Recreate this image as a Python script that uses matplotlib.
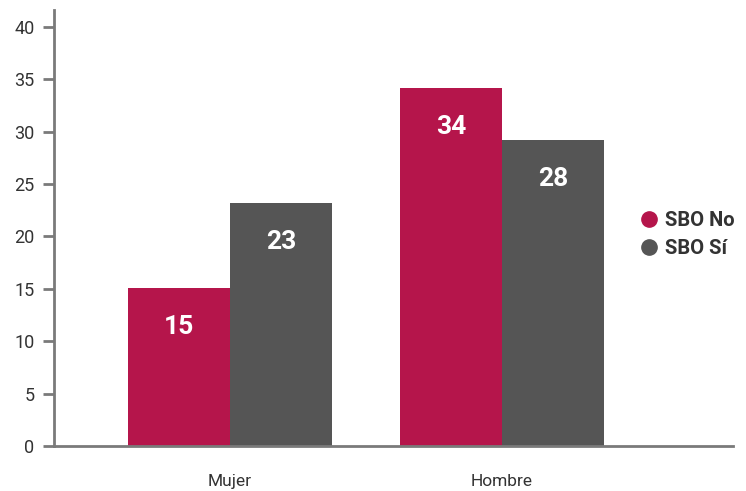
import numpy as np
import matplotlib.pyplot as plt
from matplotlib.lines import Line2D

categories = ['Mujer', 'Hombre']
series_names = ['SBO No', 'SBO Sí']
sbo_no = [15.1, 34.2]
sbo_si = [23.2, 29.2]
labels_no = ['15', '34']
labels_si = ['23', '28']
yticks = [0, 5, 10, 15, 20, 25, 30, 35, 40]

plt.rcParams['font.family'] = ['Roboto', 'DejaVu Sans']

c_no = '#b5154b'
c_si = '#555555'
axis_c = '#7a7a7a'


def main():
    fig = plt.figure(figsize=(7.46, 4.91), dpi=100)
    ax = fig.add_axes([0.0724, 0.0916, 0.9102, 0.888])

    x = np.arange(len(categories))
    w = 0.375
    b1 = ax.bar(x - w/2, sbo_no, w, color=c_no)
    b2 = ax.bar(x + w/2, sbo_si, w, color=c_si)

    for bars, labs in ((b1, labels_no), (b2, labels_si)):
        for r, lab in zip(bars, labs):
            ax.annotate(lab, (r.get_x() + r.get_width()/2, r.get_height()),
                        xytext=(0, -39), textcoords='offset pixels',
                        ha='center', va='center', color='white',
                        fontsize=19, fontweight='bold')

    ax.set_xlim(-0.647, 1.849)
    ax.set_ylim(0, 41.6)
    ax.set_yticks(yticks)
    ax.set_xticks(x)
    ax.set_xticklabels(categories)

    for s in ('top', 'right'):
        ax.spines[s].set_visible(False)
    for s in ('left', 'bottom'):
        ax.spines[s].set_color(axis_c)
        ax.spines[s].set_linewidth(2)

    ax.tick_params(axis='y', length=8, width=2, color=axis_c,
                   labelsize=13, labelcolor='#333333', pad=6)
    ax.tick_params(axis='x', length=0, labelsize=12.5,
                   labelcolor='#333333', pad=20)

    handles = [Line2D([], [], ls='', marker='o', markersize=11, color=c)
               for c in (c_no, c_si)]
    ax.legend(handles, series_names, loc='center left',
              bbox_to_anchor=(0.838, 0.485), frameon=False,
              handlelength=0.8, handletextpad=0.4, labelspacing=0.45,
              prop={'size': 14.5, 'weight': 'bold'}, labelcolor='#333333')

    fig.savefig('out.png', dpi=100)


if __name__ == "__main__":
    main()
